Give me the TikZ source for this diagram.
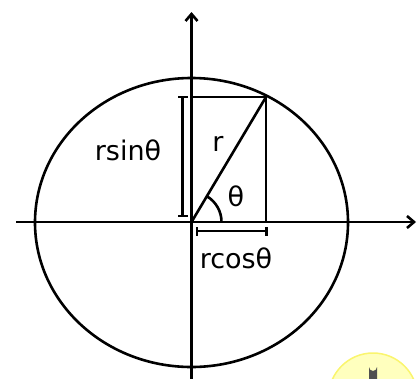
\documentclass[tikz,border=0pt]{standalone}
\usepackage{fontspec}
\setmainfont{DejaVu Sans}
\usetikzlibrary{arrows.meta}
\definecolor{iconfill}{RGB}{255,255,190}
\definecolor{iconedge}{RGB}{250,245,110}
\definecolor{pill}{RGB}{80,80,80}
\begin{document}
\begin{tikzpicture}[x=1pt,y=-1pt,
  line/.style={line width=2.6pt,black},
  axis/.style={-{Straight Barb[length=7pt,width=12pt,line width=2.6pt]}},
  lbl/.style={font=\fontsize{27}{27}\selectfont,inner sep=0pt}]
\useasboundingbox (0,0) rectangle (419,378);
\coordinate (O) at (191.5,222);
\coordinate (P) at (266,97);
\coordinate (Q) at (191.5,97);
\coordinate (R) at (266,222);
\coordinate (xl) at (16,222);
\coordinate (xr) at (416,222);
\coordinate (yt) at (191.5,12);
\coordinate (yb) at (191.5,380);
% ellipse
\draw[line] (191.5,222.5) ellipse [x radius=156.5, y radius=144.5];
% axes
\draw[line,axis] (xl) -- (xr);
\draw[line,axis] (yb) -- (yt);
% rectangle and radius
\draw[line] (Q) -- (P) -- (R);
\draw[line] (O) -- (P);
% angle
\draw[line] (221.5,222) arc[start angle=0,end angle=-59.2,radius=30];
% rsin bracket
\coordinate (s1) at (182.7,97);
\coordinate (s2) at (182.7,216);
\draw[line] (s1) -- (s2);
\draw[line] (178,97) -- (187.5,97);
\draw[line] (178,216) -- (187.5,216);
% rcos bracket
\coordinate (c1) at (197,231);
\coordinate (c2) at (266.5,231);
\draw[line] (c1) -- (c2);
\draw[line] (197,227) -- (197,235.5);
\draw[line] (266.5,227) -- (266.5,235.5);
% labels
\node[lbl] (lr) at (218,144) {r};
\node[lbl] (lth) at (236,196) {θ};
\node[lbl] (lsin) at (128,150) {rsinθ};
\node[lbl] (lcos) at (236,258) {rcosθ};
% icon
\begin{scope}
\clip (0,0) rectangle (419,378);
\draw[fill=iconfill,draw=iconedge,line width=1.5pt] (373,397.5) circle[radius=44.5];
\fill[pill] (369,380) -- (369,367) arc[start angle=180,end angle=0,radius=4] -- (377,380) -- cycle;
\end{scope}
\end{tikzpicture}
\end{document}
